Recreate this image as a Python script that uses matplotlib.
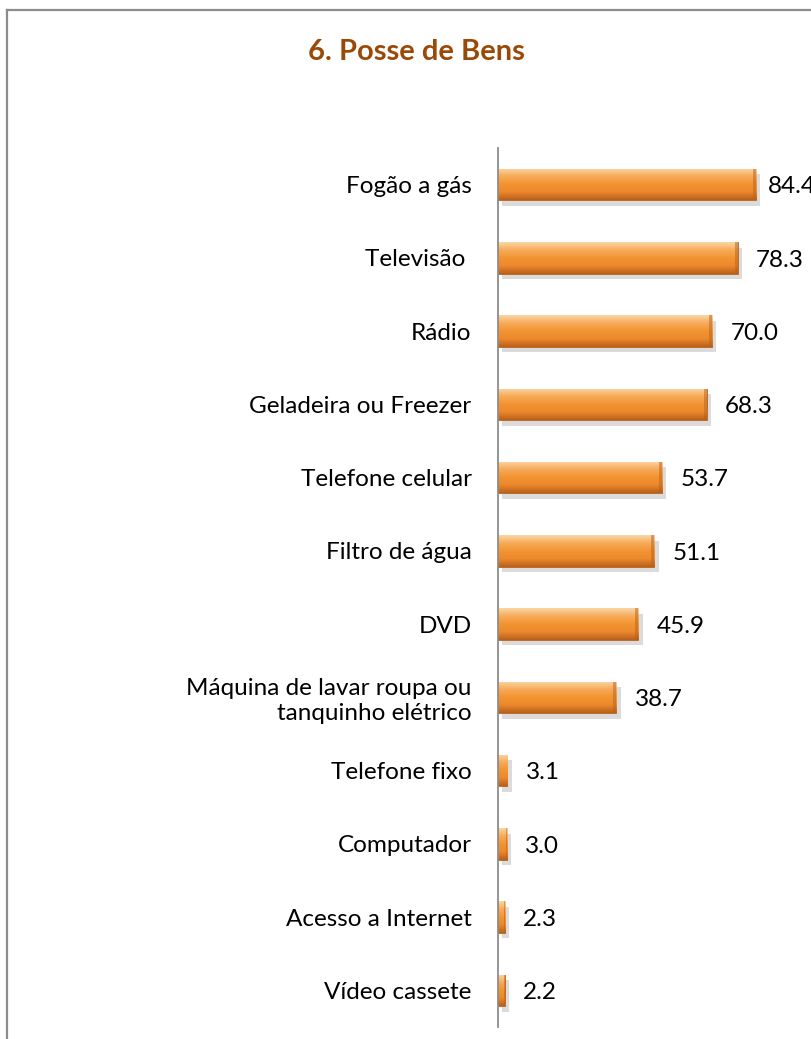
import matplotlib
matplotlib.use('Agg')
import matplotlib.pyplot as plt
import matplotlib.patheffects as pe
from matplotlib.lines import Line2D
from matplotlib.colors import LinearSegmentedColormap
import numpy as np

# data
categories = ['Fogão a gás', 'Televisão ', 'Rádio', 'Geladeira ou Freezer',
              'Telefone celular', 'Filtro de água', 'DVD',
              'Máquina de lavar roupa ou\ntanquinho elétrico',
              'Telefone fixo', 'Computador', 'Acesso a Internet', 'Vídeo cassete']
values = [84.4, 78.3, 70.0, 68.3, 53.7, 51.1, 45.9, 38.7, 3.1, 3.0, 2.3, 2.2]
title = '6. Posse de Bens'

plt.rcParams['font.family'] = ['Lato', 'DejaVu Sans']

fig = plt.figure(figsize=(8.12, 10.39), dpi=100)
W, H = 812, 1039

# frame around the chart (goes off the right and bottom)
fig.add_artist(Line2D([7 / W, 7 / W], [0, 1 - 10 / H], color='#8c8c8c', lw=1.6))
fig.add_artist(Line2D([7 / W, 1], [1 - 10 / H, 1 - 10 / H], color='#8c8c8c', lw=1.6))

fig.text(416 / W, 1 - 52 / H, title, ha='center', va='center',
         fontsize=21, fontweight='bold', color='#9a4a08')

ax = fig.add_axes([498 / W, 1 - 1027 / H, (W - 498) / W, (1027 - 148) / H])
y = np.arange(len(categories))
bars = ax.barh(y, values, height=0.43, color='#f0902c', edgecolor='#b5621c', lw=0.6,
               path_effects=[pe.SimplePatchShadow(offset=(3, -4), shadow_rgbFace='#888888', alpha=0.3),
                             pe.Normal()])

xmax = (W - 498) / 3.06
ax.set_xlim(0, xmax)
ax.set_ylim(len(categories) - 0.5, -0.5)

# vertical gradient to mimic the bevelled bars
cmap = LinearSegmentedColormap.from_list('bev', ['#fad6a6', '#f7aa58', '#f29432', '#ec882c', '#b8611c'])
grad = np.linspace(0, 1, 64).reshape(-1, 1)
for b in bars:
    x0, y0 = b.get_x(), b.get_y()
    w, h = b.get_width(), b.get_height()
    im = ax.imshow(grad, cmap=cmap, aspect='auto', extent=(x0, x0 + w, y0 + h, y0),
                   interpolation='bicubic', zorder=2.5)
    im.set_clip_path(b)
    # darker right cap
    cap = min(w * 0.08, 1.0)
    ax.add_patch(plt.Rectangle((x0 + w - cap, y0), cap, h,
                               color='#b8611c', alpha=0.5, zorder=2.6, lw=0))
    # label sits right of the bar, pulled back if it would run off the chart
    tx = min(x0 + w + 5.9, xmax - 14.4)
    ax.text(tx, y0 + h / 2 + 0.03, f'{b.get_width():.1f}', va='center', ha='left',
            fontsize=17.5, color='black')

ax.set_yticks(y)
ax.set_yticklabels(categories, fontsize=17.5)
ax.tick_params(axis='y', length=0, pad=19)
ax.set_xticks([])
for s in ['top', 'right', 'bottom']:
    ax.spines[s].set_visible(False)
ax.spines['left'].set_color('#8c8c8c')
ax.spines['left'].set_linewidth(1.3)
ax.patch.set_alpha(0)

fig.savefig('out.png', dpi=100)
